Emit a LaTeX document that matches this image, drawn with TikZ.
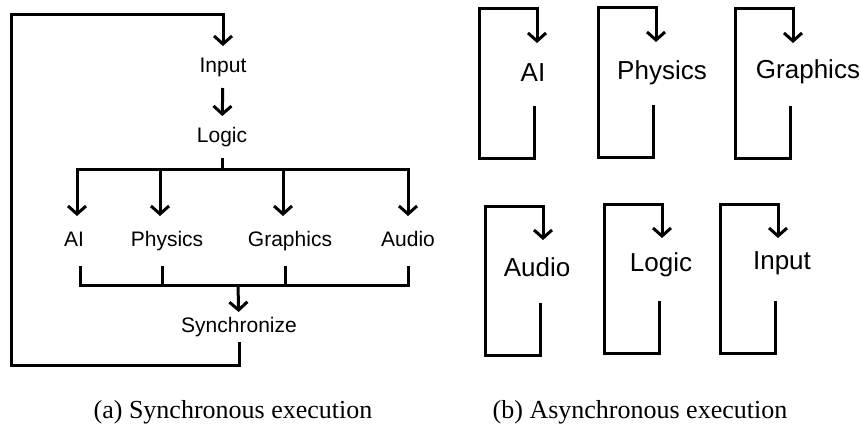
\documentclass[tikz,border=0pt]{standalone}
\usepackage{fontspec}
\setmainfont{Liberation Serif}
\newfontfamily\labelfont{Liberation Sans}
\usetikzlibrary{arrows.meta}

\tikzset{
    arr/.style={-{Straight Barb[length=8pt,width=18pt]}},
    lbl/.style={font=\labelfont\fontsize{21}{25}\selectfont,
        text height=15pt, text depth=4pt, inner xsep=2pt, inner ysep=10pt},
    tasklbl/.style={font=\labelfont\fontsize{26}{30}\selectfont, inner sep=0pt},
    caption/.style={font=\fontsize{26}{30}\selectfont, inner sep=0pt, anchor=base}
}

\begin{document}
\begin{tikzpicture}[x=1pt, y=-1pt, line width=3pt]
    \useasboundingbox (0,0) rectangle (861,425);

    \node[lbl] (input) at (223,67) {Input};
    \node[lbl] (logic) at (222,137) {Logic};
    \node[lbl, inner ysep=14pt] (ai) at (74,241) {AI};
    \node[lbl, inner ysep=14pt] (physics) at (167,241) {Physics};
    \node[lbl, inner ysep=14pt] (graphics) at (290,241) {Graphics};
    \node[lbl, inner ysep=14pt] (audio) at (408,241) {Audio};
    \node[lbl, inner ysep=4pt] (sync) at (239,327) {Synchronize};

    \coordinate (split) at (222,169);
    \coordinate (join) at (238,285);
    \coordinate (loopbl) at (11,365);
    \coordinate (looptl) at (11,15);

    \draw [arr] (input) -- (logic);
    \foreach \n/\i/\o in {ai/3/6, physics/-7/-5, graphics/-7/-5, audio/0/0} {
        \draw [arr] (logic) -- (split) -| ([xshift=\i pt]\n.north);
        \draw ([xshift=\o pt]\n.south) |- (join);
    }
    \draw [arr] (join) -- (sync);
    \draw [arr] (sync) |- (loopbl) -- (looptl) -| (input);

    \foreach \n/\t/\lx/\ly/\ax/\ay in {ai/AI/533/73/537/43,
            physics/Physics/662/73/656/42, graphics/Graphics/808/72/793/43,
            audio/Audio/537/267/543/240, logic/Logic/661/265/662/238,
            input/Input/782/263/778/238} {
        \node[tasklbl] (t\n) at (\lx,\ly) {\t};
        \coordinate (t\n-out) at (\ax-3,\ay+63);
        \coordinate (t\n-in) at (\ax,\ay);
        \draw [arr] (t\n-out) -- (\ax-3,\ay+115) -| (\ax-58,\ay-34) -| (t\n-in);
    }

    \node[caption] (capa) at (233,418) {(a) Synchronous execution};
    \node[caption] (capb) at (640,418) {(b) Asynchronous execution};
\end{tikzpicture}
\end{document}
